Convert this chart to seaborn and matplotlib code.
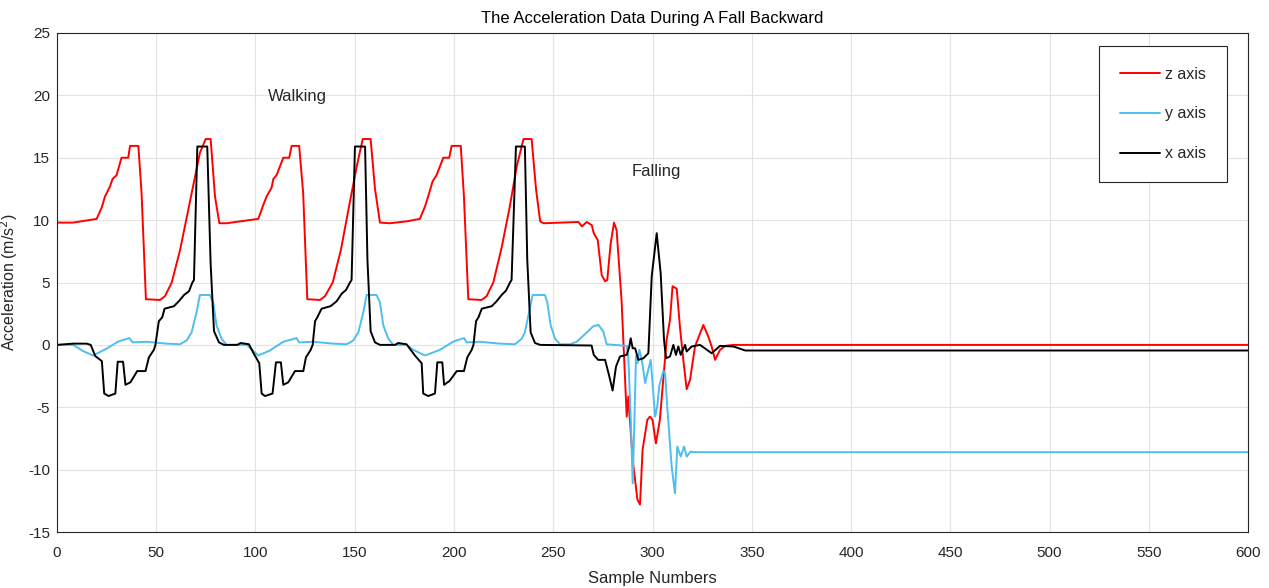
import matplotlib
matplotlib.use("Agg")
import matplotlib.pyplot as plt
import seaborn as sns
import pandas as pd

# Kurven als Stützpunkte (Sample, Wert)
z_n = [0, 8, 20, 22.5, 24.2, 26.7, 28, 30, 32.5, 35.9, 36.8, 41, 42.6, 44.8, 51.9, 54.4, 57.8, 62, 67, 72,
       74.9, 77.4, 79.6, 81.8, 85.5, 92.2, 101.4, 103.9, 105.6, 108.1, 109, 110.6, 114, 117, 118.2, 122,
       124, 126.1, 132.5, 135, 138.9, 143, 147, 151, 154, 158, 160.2, 162.7, 167.7, 176.1, 182.8, 185.4,
       187, 189.2, 191.2, 194.6, 197.6, 198.8, 203.4, 205, 207.2, 213.9, 216.4, 219.8, 224, 228, 231.6,
       235, 239.1, 241.3, 243.4, 245.1, 262.7, 264.4, 266.9, 269.4, 270.4, 272.4, 274.4, 276.1, 277.2,
       278.9, 280.6, 281.9, 284.4, 287, 287.8, 290, 292.4, 293.7, 295, 297.4, 298.7, 300, 301.7, 303.7,
       305.4, 307.1, 308.8, 310.1, 312.2, 313.8, 315.5, 317.2, 318.9, 321.4, 325.6, 328.1, 329.8, 331.5,
       334, 336.6, 340.8, 600]
z_val = [9.8, 9.8, 10.1, 11.0, 11.9, 12.7, 13.3, 13.6, 15.0, 15.0, 15.95, 15.95, 12.2, 3.66, 3.6, 3.9, 5.0, 7.6, 11.5, 15.4,
         16.5, 16.5, 11.9, 9.75, 9.75, 9.9, 10.1, 11.2, 11.9, 12.6, 13.3, 13.6, 15.0, 15.0, 15.95, 15.95,
         12.2, 3.66, 3.6, 3.9, 5.0, 7.6, 11.0, 14.3, 16.5, 16.5, 12.5, 9.8, 9.75, 9.9, 10.1, 11.1,
         11.9, 13.1, 13.6, 15.0, 15.0, 15.95, 15.95, 11.9, 3.66, 3.6, 3.9, 5.0, 7.8, 11.0, 14.3,
         16.5, 16.5, 12.5, 9.9, 9.75, 9.85, 9.5, 9.85, 9.6, 8.95, 8.4, 5.6, 5.1, 5.2,
         8.1, 9.8, 9.2, 3.6, -5.75, -4.14, -9.2, -12.4, -12.8, -8.4, -6.0, -5.75, -6.0, -7.9, -6.0,
         -2.8, 0.4, 2.0, 4.7, 4.5, 1.46, -1.2, -3.55, -2.8, -0.13, 1.6, 0.67, -0.13, -1.2,
         -0.4, -0.08, 0.0, 0.0]

y_n = [0, 8.2, 13.2, 18.2, 25, 30.9, 36.4, 38.1, 45.1, 55.2, 61.9, 65.3, 67.8, 70.3, 72, 77, 78.7, 80.4,
       82.9, 85.4, 95.6, 101.4, 107.3, 114, 120.7, 122, 129, 139.1, 145.9, 149.2, 151.8, 154.3, 156, 161,
       162.7, 164.4, 166.9, 169.4, 176.1, 179.5, 185.4, 192.9, 199.7, 205, 206.4, 213.1, 223.1, 230.7,
       234.1, 235.7, 237.9, 239.6, 245.8, 247, 248.7, 250.9, 253.4, 258.4, 261.8, 266.9, 270.2, 272.8,
       275.2, 276.9, 287, 287.8, 289, 290, 290.7, 291.7, 292.4, 293.4, 294.6, 296.3, 297.4, 299.1, 301.3,
       302.4, 303.4, 305.4, 306.3, 307.4, 309.6, 311.3, 312.5, 314.2, 315.9, 317.2, 319.2, 320.6, 600]
y_val = [0, 0, -0.5, -0.85, -0.3, 0.27, 0.55, 0.2, 0.25, 0.1, 0.05, 0.35, 1.0, 2.6, 4.0, 4.0, 3.4, 1.55,
         0.5, 0, 0, -0.85, -0.45, 0.25, 0.55, 0.2, 0.25, 0.1, 0.05, 0.35, 1.0, 2.6, 4.0, 4.0,
         3.4, 1.55, 0.5, 0, 0, -0.4, -0.85, -0.4, 0.27, 0.55, 0.2, 0.25, 0.1, 0.05,
         0.5, 1.0, 2.7, 4.0, 4.0, 3.4, 1.55, 0.5, 0.05, 0.05, 0.25, 1.0, 1.5, 1.6,
         1.07, 0.05, -0.08, -0.9, -5.75, -11.1, -7.1, -0.9, -1.47, -0.4, -1.2, -3.07, -2.3, -1.2, -5.75,
         -4.9, -3.3, -2.1, -2.2, -4.9, -9.7, -11.9, -8.15, -8.95, -8.15, -8.95, -8.55, -8.6, -8.6]

x_n = [0, 8, 15, 17, 19.3, 22.6, 23.8, 26, 29.4, 30.6, 33.3, 34.5, 37, 40.4, 44.6, 46.3, 48.8, 49.6, 51.3,
       53, 54.2, 58.9, 61.4, 64, 66.5, 68.2, 69, 70.7, 75.7, 77.4, 79.1, 81.6, 84.1, 90.8, 92.5, 96.7,
       98.9, 101.9, 103.1, 104.8, 108.6, 110.3, 112.8, 114, 116.5, 119.9, 124.1, 125.4, 127.8, 128.8, 130,
       131.1, 133.3, 137.8, 140.9, 143.4, 145.6, 147.6, 148.4, 150.1, 155.2, 156.4, 158, 160.2, 162.7,
       170.3, 171.9, 176.1, 180.3, 183.7, 184.5, 187, 190.4, 191.6, 194.1, 195, 197.7, 201.4, 205, 206.7,
       208.9, 209.8, 211.1, 212.3, 214, 219, 221.5, 224, 226.2, 228.2, 229, 231.2, 235.7, 236.9, 238.6,
       240.8, 243.4, 269.3, 270.4, 272.6, 276.1, 278.2, 279.9, 281.6, 283.6, 287, 288.3, 289, 290, 291.2,
       292.9, 295.4, 297.9, 299.6, 302.1, 304.1, 305.8, 306.8, 308.8, 310.5, 311.8, 313, 314.2, 316.4,
       317.2, 319.7, 323.9, 329.8, 334, 340.8, 346.7, 600]
x_val = [0, 0.1, 0.1, 0, -0.9, -1.3, -3.9, -4.1, -3.9, -1.35, -1.35, -3.2, -3.0, -2.1, -2.1, -1.0, -0.4, 0, 1.9,
         2.2, 2.9, 3.1, 3.5, 4.0, 4.3, 5.0, 5.2, 15.9, 15.9, 6.5, 1.1, 0.2, 0, 0, 0.15, 0.05,
         -0.63, -1.47, -3.9, -4.1, -3.9, -1.4, -1.4, -3.2, -3.0, -2.1, -2.1, -1.0, -0.4, 0, 1.9,
         2.2, 2.9, 3.1, 3.5, 4.1, 4.4, 5.0, 5.2, 15.9, 15.9, 6.8, 1.1, 0.2, 0,
         0, 0.15, 0.05, -0.85, -1.47, -3.9, -4.1, -3.9, -1.4, -1.4, -3.2, -2.9, -2.1, -2.1, -1.0,
         -0.4, 0, 1.9, 2.2, 2.9, 3.1, 3.5, 4.0, 4.35, 5.0, 5.2, 15.9, 15.9, 6.85, 1.0,
         0.15, 0, -0.05, -0.8, -1.2, -1.2, -2.5, -3.66, -1.74, -0.93, -0.8, -0.13, 0.53, -0.27, -0.27,
         -1.2, -1.07, -0.67, 5.5, 8.95, 5.75, 0.4, -1.07, -0.93, 0, -0.8, -0.13, -0.8, 0,
         -0.53, -0.13, 0, -0.67, -0.08, -0.13, -0.45, -0.45]

sns.set_theme(style="whitegrid")
plt.rcParams['font.family'] = ['Liberation Sans', 'DejaVu Sans']
plt.rcParams['axes.unicode_minus'] = False

fig = plt.figure(figsize=(12.69, 5.88), dpi=100)
ax = fig.add_axes([0.0449, 0.0952, 0.9386, 0.8487])

sns.lineplot(x=z_n, y=z_val, color='#ff0000', lw=1.4, label='z axis', ax=ax, sort=False, estimator=None)
sns.lineplot(x=y_n, y=y_val, color='#4dbeee', lw=1.4, label='y axis', ax=ax, sort=False, estimator=None)
sns.lineplot(x=x_n, y=x_val, color='#000000', lw=1.4, label='x axis', ax=ax, sort=False, estimator=None)

ax.set_xlim(0, 600)
ax.set_ylim(-15, 25)
ax.set_xticks(range(0, 601, 50))
ax.set_yticks(range(-15, 26, 5))
ax.grid(True, color='#e3e3e3', lw=0.8)
for s in ax.spines.values():
    s.set_color('#262626')
    s.set_linewidth(0.8)
ax.tick_params(direction='in', length=4, color='#262626', labelsize=11, labelcolor='#262626', pad=5)
ax.tick_params(axis='x', pad=10)

ax.set_title('The Acceleration Data During A Fall Backward', fontsize=12, color='#000000', pad=7)
ax.set_xlabel('Sample Numbers', fontsize=12, color='#262626', labelpad=8)
ax.set_ylabel('Acceleration (m/s$^2$)', fontsize=11.5, color='#262626')
ax.yaxis.set_label_coords(-0.031, 0.5)

ax.text(121, 19.9, 'Walking', ha='center', va='center', fontsize=12)
ax.text(302, 13.9, 'Falling', ha='center', va='center', fontsize=12)

leg = ax.legend(loc='upper right', bbox_to_anchor=(0.982, 0.974), fontsize=11.5, frameon=True,
                fancybox=False, framealpha=1, edgecolor='#262626', handlelength=2.5,
                labelspacing=1.55, borderpad=1.3, handletextpad=0.3, borderaxespad=0)
leg.get_frame().set_linewidth(0.8)

fig.savefig('out.png', dpi=100)
